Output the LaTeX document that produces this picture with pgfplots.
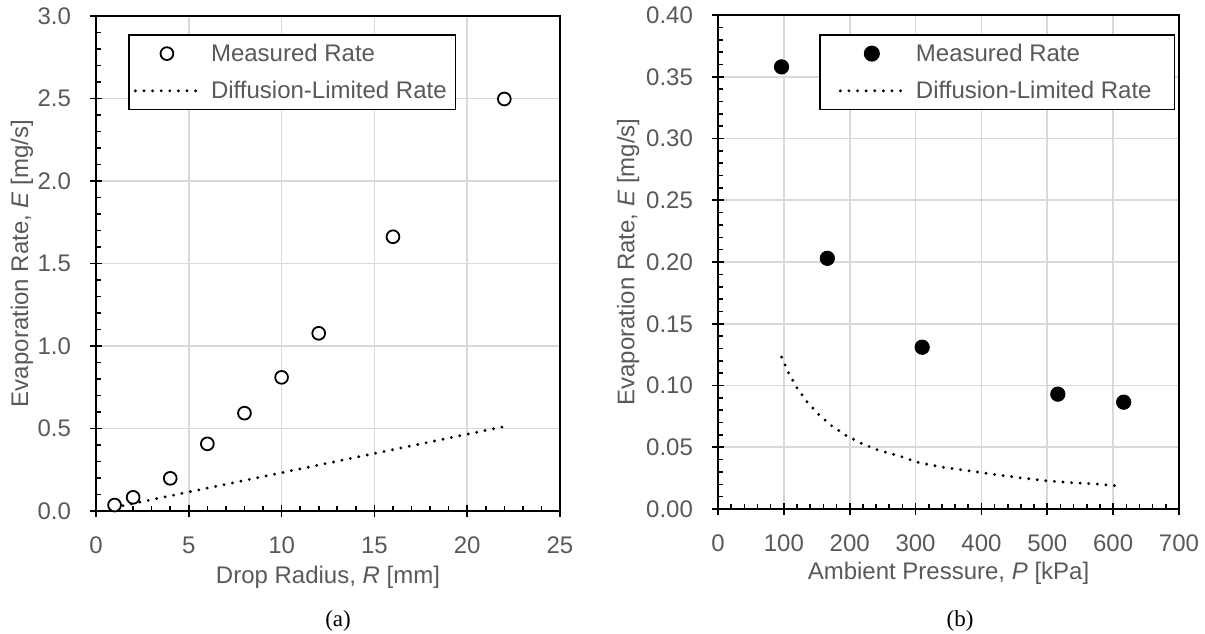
\documentclass[border=0pt]{standalone}
\usepackage{pgfplots}
\pgfplotsset{compat=1.18}
\usepackage{fontspec}
\setmainfont{Liberation Sans}
\newfontfamily\capfont{Liberation Serif}
\definecolor{txtgray}{HTML}{595959}
\definecolor{gridgray}{HTML}{D9D9D9}

\pgfplotsset{
  mystyle/.style={
    scale only axis,
    clip=false,
    axis line style={black, line width=0.8pt},
    xmajorgrids, ymajorgrids,
    major grid style={gridgray, line width=0.8pt},
    tick align=center,
    xtick pos=bottom, ytick pos=left,
    major tick length=6pt,
    minor tick length=2.5pt,
    every tick/.style={black, line width=0.8pt},
    minor x tick style={yshift=1.25pt},
    minor y tick style={xshift=1.25pt},
    minor tick num=4,
    tick label style={font=\fontsize{12}{14}\selectfont, text=txtgray},
    /pgf/number format/assume math mode=true,
    yticklabel style={xshift=-6pt},
    xticklabel style={yshift=-6.5pt},
    label style={font=\fontsize{12}{14}\selectfont, text=txtgray},
    legend cell align=left,
    legend style={draw=black, line width=0.8pt, fill=white,
      font=\fontsize{12}{14}\selectfont, text=txtgray,
      inner ysep=2.3pt, row sep=4.4pt,
      nodes={inner sep=2pt, text height=9pt, text depth=1.2pt},
      /tikz/every odd column/.append style={column sep=3.5pt}},
  },
  dotsty/.style={black, line width=1.6pt, line cap=round, dash pattern=on 0pt off 4.3pt,
    legend image code/.code={\draw (0pt,0pt) -- (31.5pt,0pt);}},
  markleg/.style={legend image code/.code={\draw[mark repeat=2,mark phase=2] plot coordinates {(0pt,0pt)(15.75pt,0pt)(31.5pt,0pt)};}},
}

\begin{document}
\begin{tikzpicture}
\useasboundingbox (0,0) rectangle (602.5pt,316.5pt);

% ---------- (a) ----------
\begin{axis}[mystyle,
  at={(48pt,61pt)}, anchor=south west,
  width=232pt, height=247.5pt,
  xmin=0, xmax=25, ymin=0, ymax=3,
  xtick={0,5,10,15,20,25},
  ytick={0,0.5,1,1.5,2,2.5,3},
  yticklabel style={/pgf/number format/fixed, /pgf/number format/fixed zerofill, /pgf/number format/precision=1},
  xlabel={Drop Radius, \textit{R} [mm]},
  ylabel={Evaporation Rate, \textit{E} [mg/s]},
  xlabel style={at={(axis description cs:0.5,-0.133)}, anchor=center},
  ylabel style={at={(axis description cs:-0.1595,0.5)}, anchor=center},
  legend style={at={(axis description cs:0.069,0.9636)}, anchor=north west, inner xsep=2.5pt},
]
\addplot[only marks, mark=*, mark size=3.2pt, mark options={fill=white, draw=black, line width=0.9pt}, markleg]
  coordinates {(1,0.036)(2,0.083)(4,0.198)(6,0.407)(8,0.593)(10,0.810)(12,1.077)(16,1.662)(22,2.497)};
\addlegendentry{Measured Rate}
\addplot[dotsty] coordinates {(1,0.022)(22,0.512)};
\addlegendentry{Diffusion-Limited Rate}
\draw[black, line width=1.25pt] (rel axis cs:0,1) -- (rel axis cs:0,0) -- (rel axis cs:1,0);
\node[font=\capfont\fontsize{11.5}{13}\selectfont, text=black] at (axis description cs:0.5216,-0.222) {(a)};
\end{axis}

% ---------- (b) ----------
\begin{axis}[mystyle,
  at={(359pt,62pt)}, anchor=south west,
  width=230.5pt, height=247pt,
  xmin=0, xmax=700, ymin=0, ymax=0.4,
  xtick={0,100,200,300,400,500,600,700},
  ytick={0,0.05,0.1,0.15,0.2,0.25,0.3,0.35,0.4},
  yticklabel style={/pgf/number format/fixed, /pgf/number format/fixed zerofill, /pgf/number format/precision=2},
  xlabel={Ambient Pressure, \textit{P} [kPa]},
  ylabel={Evaporation Rate, \textit{E} [mg/s]},
  xlabel style={at={(axis description cs:0.5,-0.13)}, anchor=center},
  ylabel style={at={(axis description cs:-0.195,0.5)}, anchor=center},
  legend style={at={(axis description cs:0.219,0.9615)}, anchor=north west, inner xsep=9.5pt},
]
\addplot[only marks, mark=*, mark size=3.6pt, mark options={fill=black, draw=black}, markleg]
  coordinates {(96.5,0.358)(166,0.203)(310,0.131)(516,0.093)(616,0.0865)};
\addlegendentry{Measured Rate}
\addplot[dotsty] coordinates {
  (96.5,0.123)(107,0.1105)(120,0.098)(135,0.087)(153,0.0765)(172,0.0676)(193,0.060)
  (217.5,0.0532)(241.5,0.048)(277,0.0427)(303,0.0378)(341.5,0.0338)(379,0.0311)
  (418,0.0281)(457,0.0254)(495,0.0230)(534.5,0.0214)(573.7,0.0203)(611.7,0.0184)};
\addlegendentry{Diffusion-Limited Rate}
\draw[black, line width=1.25pt] (rel axis cs:0,1) -- (rel axis cs:0,0) -- (rel axis cs:1,0);
\node[font=\capfont\fontsize{11.5}{13}\selectfont, text=black] at (axis description cs:0.525,-0.227) {(b)};
\end{axis}
\end{tikzpicture}
\end{document}
